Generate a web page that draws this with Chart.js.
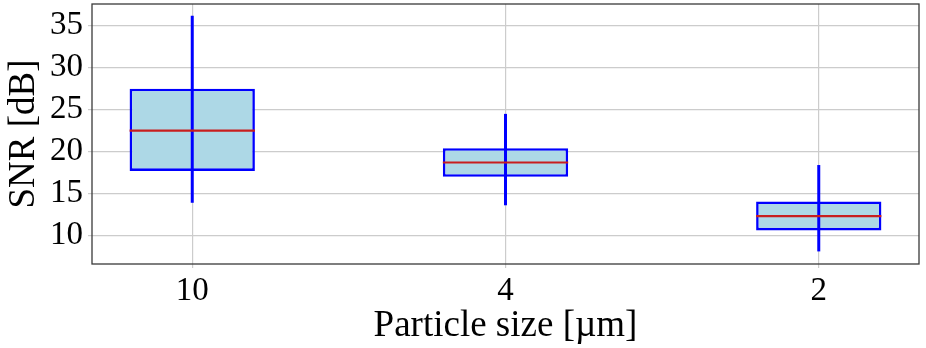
<!DOCTYPE html>
<html>
<head>
<meta charset="utf-8">
<script src="https://cdn.jsdelivr.net/npm/chart.js@4.4.1/dist/chart.umd.min.js"></script>
<style>
  html, body { margin: 0; padding: 0; background: #fff; }
</style>
</head>
<body>
<canvas id="c" width="926" height="348"></canvas>
<script>
// box plot data: SNR per particle size
const categories = ['10', '4', '2'];
const positions = [1, 2, 3];
const q1 = [17.7, 17.0, 10.6];
const q3 = [27.5, 20.4, 14.05];
const medians = [22.5, 18.7, 12.3];
const whiskerLow = [13.9, 13.6, 8.1];
const whiskerHigh = [36.2, 24.5, 18.4];
const yTicks = [10, 15, 20, 25, 30, 35];

const BOX_WIDTH = 0.4;
const GRID = '#cccccc';

Chart.defaults.font.family = "'Liberation Serif', 'Times New Roman', serif";
Chart.defaults.color = '#000';

const framePlugin = {
  id: 'frame',
  afterDatasetsDraw(chart) {
    const { ctx, chartArea: a } = chart;
    ctx.save();
    ctx.strokeStyle = '#3a3a3a';
    ctx.lineWidth = 1.3;
    ctx.strokeRect(a.left, a.top, a.right - a.left, a.bottom - a.top);
    ctx.restore();
  }
};

new Chart(document.getElementById('c'), {
  type: 'bar',
  data: {
    datasets: [
      {
        label: 'box',
        order: 3,
        grouped: false,
        data: positions.map((x, i) => ({ x, y: [q1[i], q3[i]] })),
        backgroundColor: '#add8e6',
        borderColor: '#0000ff',
        borderWidth: 2.6,
        borderSkipped: false,
        categoryPercentage: 1,
        barPercentage: BOX_WIDTH
      },
      {
        label: 'whisker',
        order: 2,
        grouped: false,
        data: positions.map((x, i) => ({ x, y: [whiskerLow[i], whiskerHigh[i]] })),
        backgroundColor: '#0000ff',
        borderWidth: 0,
        maxBarThickness: 3
      },
      {
        label: 'median',
        type: 'scatter',
        order: 1,
        data: positions.map((x, i) => ({ x, y: medians[i] })),
        pointStyle: 'line',
        borderColor: '#c81e1e',
        borderWidth: 2.2,
        radius: ctx => {
          const s = ctx.chart.scales.x;
          return s.getPixelForValue(1 + BOX_WIDTH / 2) - s.getPixelForValue(1);
        }
      }
    ]
  },
  options: {
    responsive: false,
    animation: false,
    events: [],
    layout: { padding: { top: 4, right: 7, left: 0, bottom: 0 } },
    plugins: {
      legend: { display: false },
      tooltip: { enabled: false }
    },
    scales: {
      x: {
        type: 'linear',
        min: 0.68,
        max: 3.32,
        offset: false,
        afterBuildTicks: axis => { axis.ticks = positions.map(v => ({ value: v })); },
        afterFit: axis => { axis.height = 84; axis.paddingLeft = 0; axis.paddingRight = 0; },
        grid: { color: GRID, lineWidth: 1.2, tickLength: 4, offset: false },
        border: { display: false },
        ticks: {
          padding: 4,
          maxRotation: 0,
          font: { size: 33 },
          callback: v => categories[positions.indexOf(v)]
        },
        title: {
          display: true,
          text: 'Particle size [µm]',
          font: { size: 37 },
          padding: { top: 0, bottom: 0 }
        }
      },
      y: {
        min: 6.6,
        max: 37.6,
        afterBuildTicks: axis => { axis.ticks = yTicks.map(v => ({ value: v })); },
        afterFit: axis => { axis.width = 92; axis.paddingTop = 0; axis.paddingBottom = 0; },
        grid: { color: GRID, lineWidth: 1.2, tickLength: 4 },
        border: { display: false },
        ticks: { padding: 5, font: { size: 33 } },
        title: {
          display: true,
          text: 'SNR [dB]',
          font: { size: 37 },
          padding: { top: 2, bottom: 0 }
        }
      }
    }
  },
  plugins: [framePlugin]
});
</script>
</body>
</html>
